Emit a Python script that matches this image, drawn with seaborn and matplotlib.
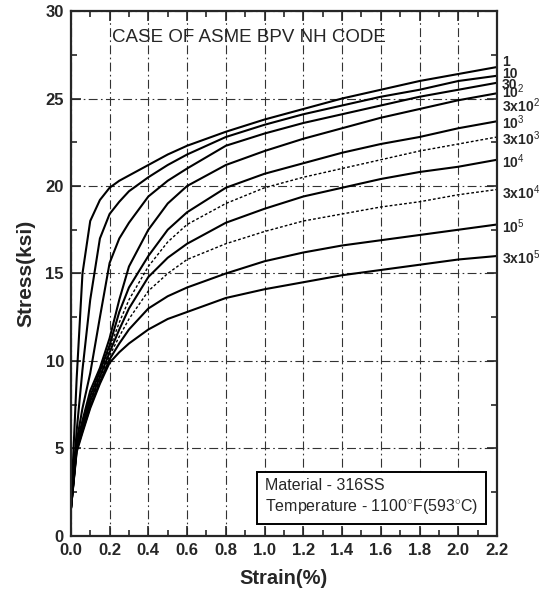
import numpy as np
import pandas as pd
import matplotlib
matplotlib.use("Agg")
import matplotlib.pyplot as plt
from matplotlib.ticker import MultipleLocator
import seaborn as sns

# strain (%) where the curves were read
strain = [0, 0.03, 0.06, 0.1, 0.15, 0.2, 0.25, 0.3, 0.4, 0.5, 0.6,
          0.8, 1.0, 1.2, 1.4, 1.6, 1.8, 2.0, 2.2]

# isochronous curves, stress (ksi), one list per time (hr)
s_1 = [1.5, 9.0, 15.0, 18.0, 19.2, 19.9, 20.3, 20.6, 21.2, 21.8, 22.3,
       23.1, 23.8, 24.4, 25.0, 25.5, 26.0, 26.4, 26.8]
s_10 = [1.5, 6.0, 9.5, 13.5, 17.0, 18.4, 19.1, 19.7, 20.5, 21.2, 21.8,
        22.8, 23.5, 24.1, 24.6, 25.1, 25.5, 26.0, 26.3]
s_30 = [1.5, 5.4, 7.3, 9.3, 12.5, 15.6, 17.0, 17.9, 19.4, 20.3, 21.0,
        22.3, 23.0, 23.6, 24.1, 24.6, 25.1, 25.5, 25.9]
s_3e2 = [1.5, 5.2, 6.6, 8.3, 9.6, 11.3, 13.5, 15.4, 17.5, 19.0, 20.0,
         21.2, 22.0, 22.7, 23.3, 23.9, 24.4, 24.9, 25.3]
s_1e3 = [1.5, 5.1, 6.4, 8.0, 9.4, 10.9, 12.8, 14.2, 16.0, 17.5, 18.5,
         19.9, 20.7, 21.3, 21.9, 22.4, 22.8, 23.3, 23.7]
s_3e3 = [1.5, 5.0, 6.3, 7.8, 9.3, 10.7, 12.2, 13.5, 15.4, 16.8, 17.8,
         19.0, 19.9, 20.5, 21.0, 21.5, 22.0, 22.4, 22.8]
s_1e4 = [1.5, 5.0, 6.2, 7.7, 9.1, 10.5, 11.8, 13.0, 14.8, 15.9, 16.7,
         17.9, 18.7, 19.4, 19.9, 20.4, 20.8, 21.1, 21.5]
s_3e4 = [1.5, 4.9, 6.1, 7.5, 9.0, 10.3, 11.4, 12.4, 14.0, 15.0, 15.8,
         16.7, 17.4, 18.0, 18.4, 18.8, 19.1, 19.5, 19.8]
s_1e5 = [1.5, 4.9, 6.0, 7.4, 8.8, 10.1, 11.0, 11.8, 13.0, 13.7, 14.2,
         15.0, 15.7, 16.2, 16.6, 16.9, 17.2, 17.5, 17.8]
s_3e5 = [1.5, 4.8, 5.9, 7.3, 8.7, 9.9, 10.5, 11.0, 11.8, 12.4, 12.8,
         13.6, 14.1, 14.5, 14.9, 15.2, 15.5, 15.8, 16.0]

curves = [s_1, s_10, s_30, s_3e2, s_1e3, s_3e3, s_1e4, s_3e4, s_1e5, s_3e5]
dotted = [False, False, False, False, False, True, False, True, False, False]

# labels at the right edge and the stress where each sits
end_labels = ['1', '10', '30', '10$^2$', '3x10$^2$', '10$^3$', '3x10$^3$',
              '10$^4$', '3x10$^4$', '10$^5$', '3x10$^5$']
end_label_y = [27.1, 26.4, 25.8, 25.4, 24.6, 23.6, 22.7, 21.4, 19.6, 17.7, 15.9]

#%% plot
sns.set_style("ticks")
plt.rcParams['font.family'] = ['Liberation Sans', 'DejaVu Sans']
plt.rcParams['mathtext.fontset'] = 'custom'
plt.rcParams['mathtext.rm'] = 'Liberation Sans'
plt.rcParams['mathtext.it'] = 'Liberation Sans'
plt.rcParams['mathtext.bf'] = 'Liberation Sans:bold'

fig = plt.figure(figsize=(5.45, 5.95), dpi=100)
ax = fig.add_axes([0.130, 0.0992, 0.782, 0.8823])

for s, dot in zip(curves, dotted):
    if dot:
        sns.lineplot(x=strain, y=s, ax=ax, color='k', lw=1.0,
                     linestyle=(0, (2, 1.5)), sort=False)
    else:
        sns.lineplot(x=strain, y=s, ax=ax, color='k', lw=1.5, sort=False)

ax.set_xlim(0, 2.2)
ax.set_ylim(0, 30)
ax.xaxis.set_major_locator(MultipleLocator(0.2))
ax.xaxis.set_minor_locator(MultipleLocator(0.1))
ax.yaxis.set_major_locator(MultipleLocator(5))
ax.yaxis.set_minor_locator(MultipleLocator(2.5))
ax.xaxis.set_major_formatter(plt.FuncFormatter(lambda v, p: f'{v:.1f}'))

ax.grid(True, which='major', color='0.2', lw=0.8, linestyle=(0, (8, 3, 1.5, 3)))
ax.tick_params(which='both', direction='in', top=True, right=True, width=1.2)
ax.tick_params(which='major', length=7, labelsize=12, pad=5)
ax.tick_params(which='minor', length=4)
for lab in ax.get_xticklabels() + ax.get_yticklabels():
    lab.set_fontweight('bold')
for sp in ax.spines.values():
    sp.set_linewidth(1.6)

ax.set_xlabel('Strain(%)', fontsize=14.5, fontweight='bold', labelpad=8)
ax.set_ylabel('Stress(ksi)', fontsize=15, fontweight='bold', labelpad=7)

ax.text(0.21, 28.5, 'CASE OF ASME BPV NH CODE', fontsize=13.5, va='center', ha='left')

for lab, yv in zip(end_labels, end_label_y):
    ax.text(2.225, yv, lab, fontsize=10, fontweight='bold', va='center',
            ha='left', clip_on=False)

ax.text(1.0, 2.25, 'Material - 316SS\nTemperature - 1100$^{\\circ}$F(593$^{\\circ}$C)',
        fontsize=11.5, va='center', ha='left', linespacing=1.3,
        bbox=dict(boxstyle='square,pad=0.5', fc='white', ec='k', lw=1.4))

fig.savefig('out.png', dpi=100)
